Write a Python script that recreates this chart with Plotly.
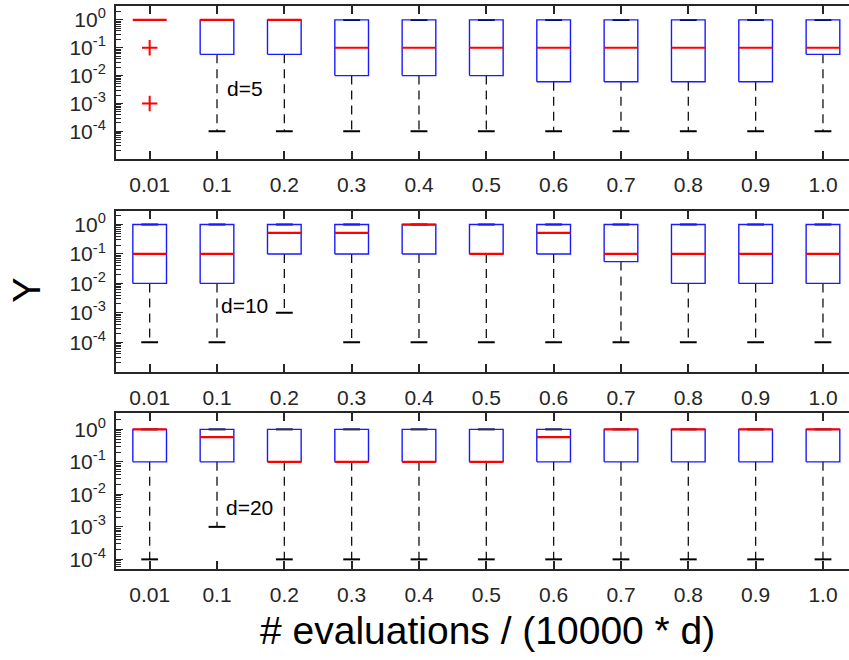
import plotly.graph_objects as go
import numpy as np

# ---------------- data ----------------
categories = ["0.01", "0.1", "0.2", "0.3", "0.4", "0.5", "0.6", "0.7", "0.8", "0.9", "1.0"]
ytick_values = [1e-4, 1e-3, 1e-2, 1e-1, 1e0]
ytick_labels = ["10<sup>-4</sup>", "10<sup>-3</sup>", "10<sup>-2</sup>", "10<sup>-1</sup>", "10<sup>0</sup>"]

# d = 5
d5_q1 = [1.0, 0.058, 0.058, 0.01, 0.01, 0.01, 0.006, 0.006, 0.006, 0.006, 0.058]
d5_med = [1.0, 1.0, 1.0, 0.1, 0.1, 0.1, 0.1, 0.1, 0.1, 0.1, 0.1]
d5_q3 = [1.0] * 11
d5_lo = [1.0, 1e-4, 1e-4, 1e-4, 1e-4, 1e-4, 1e-4, 1e-4, 1e-4, 1e-4, 1e-4]
d5_hi = [1.0] * 11
d5_out_cat = ["0.01", "0.01"]
d5_out_val = [0.1, 0.001]

# d = 10
d10_q1 = [0.01, 0.01, 0.1, 0.1, 0.1, 0.1, 0.1, 0.055, 0.01, 0.01, 0.01]
d10_med = [0.1, 0.1, 0.52, 0.52, 1.0, 0.1, 0.52, 0.1, 0.1, 0.1, 0.1]
d10_q3 = [1.0] * 11
d10_lo = [1e-4, 1e-4, 1e-3, 1e-4, 1e-4, 1e-4, 1e-4, 1e-4, 1e-4, 1e-4, 1e-4]
d10_hi = [1.0] * 11
d10_out_cat = []
d10_out_val = []

# d = 20
d20_q1 = [0.1] * 11
d20_med = [1.0, 0.58, 0.1, 0.1, 0.1, 0.1, 0.58, 1.0, 1.0, 1.0, 1.0]
d20_q3 = [1.0] * 11
d20_lo = [1e-4, 1e-3, 1e-4, 1e-4, 1e-4, 1e-4, 1e-4, 1e-4, 1e-4, 1e-4, 1e-4]
d20_hi = [1.0] * 11
d20_out_cat = []
d20_out_val = []

panel_labels = ["d=5", "d=10", "d=20"]

panels = [
    (d5_q1, d5_med, d5_q3, d5_lo, d5_hi, d5_out_cat, d5_out_val),
    (d10_q1, d10_med, d10_q3, d10_lo, d10_hi, d10_out_cat, d10_out_val),
    (d20_q1, d20_med, d20_q3, d20_lo, d20_hi, d20_out_cat, d20_out_val),
]

# ---------------- style / layout ----------------
FONT = "Liberation Sans, Arial, sans-serif"
AXC = "#262626"
BOX_W = 0.25   # half box width (category units)
CAP_W = 0.125  # half cap width

W, H = 849, 660
ML = 116
plot_w = W - ML
cat_px = 67.33
x_range = [0.5, 0.5 + plot_w / cat_px]

y_domains = [
    [1 - 158.3 / H, 1 - 5 / H],
    [1 - 372.3 / H, 1 - 210.7 / H],
    [1 - 570.7 / H, 1 - 414 / H],
]
y_ranges = [[-4.98, 0.5], [-5.0, 0.47], [-4.3, 0.5]]
label_pos = [(2.12, -2.46), (2.03, -2.76), (2.10, -2.39)]

fig = go.Figure()
pos = {c: i + 1 for i, c in enumerate(categories)}

for r, (q1, med, q3, lo, hi, oc, ov) in enumerate(panels):
    xa = "x" if r == 0 else f"x{r+1}"
    ya = "y" if r == 0 else f"y{r+1}"
    xs = [pos[c] for c in categories]

    # whiskers (dashed)
    wx, wy = [], []
    for x, a, b, c, d in zip(xs, q1, lo, q3, hi):
        if b < a:
            wx += [x, x, None]; wy += [a, b, None]
        if d > c:
            wx += [x, x, None]; wy += [c, d, None]
    if wx:
        fig.add_trace(go.Scatter(x=wx, y=wy, mode="lines", xaxis=xa, yaxis=ya,
                                 line=dict(color="#111111", width=1.3, dash="9px,6px"),
                                 hoverinfo="skip", showlegend=False))
    # caps
    cx, cy = [], []
    for x, b, d in zip(xs, lo, hi):
        cx += [x - CAP_W, x + CAP_W, None, x - CAP_W, x + CAP_W, None]
        cy += [b, b, None, d, d, None]
    fig.add_trace(go.Scatter(x=cx, y=cy, mode="lines", xaxis=xa, yaxis=ya,
                             line=dict(color="#000000", width=2),
                             hoverinfo="skip", showlegend=False))
    # boxes
    bx, by = [], []
    for x, a, c in zip(xs, q1, q3):
        bx += [x - BOX_W, x + BOX_W, x + BOX_W, x - BOX_W, x - BOX_W, None]
        by += [a, a, c, c, a, None]
    fig.add_trace(go.Scatter(x=bx, y=by, mode="lines", xaxis=xa, yaxis=ya,
                             line=dict(color="#1a1aff", width=1.4),
                             hoverinfo="skip", showlegend=False))
    # medians
    mx, my = [], []
    for x, m in zip(xs, med):
        mx += [x - BOX_W, x + BOX_W, None]
        my += [m, m, None]
    fig.add_trace(go.Scatter(x=mx, y=my, mode="lines", xaxis=xa, yaxis=ya,
                             line=dict(color="#ff0000", width=2.2),
                             hoverinfo="skip", showlegend=False))
    # outliers
    if ov:
        fig.add_trace(go.Scatter(x=[pos[c] for c in oc], y=ov, mode="markers",
                                 xaxis=xa, yaxis=ya,
                                 marker=dict(symbol="cross-thin", size=11,
                                             line=dict(color="#ff0000", width=2)),
                                 hoverinfo="skip", showlegend=False))

minor_vals = [m * 10.0 ** k for k in range(-6, 1) for m in range(2, 10)]

layout = dict(
    width=W, height=H,
    margin=dict(l=ML, r=0, t=0, b=0),
    paper_bgcolor="white", plot_bgcolor="white",
    font=dict(family=FONT, color=AXC, size=21),
    showlegend=False,
    annotations=[],
)

for r in range(3):
    xk = "xaxis" if r == 0 else f"xaxis{r+1}"
    yk = "yaxis" if r == 0 else f"yaxis{r+1}"
    ya = "y" if r == 0 else f"y{r+1}"
    xa = "x" if r == 0 else f"x{r+1}"
    layout[xk] = dict(
        domain=[0, 1], anchor=ya, range=x_range,
        tickmode="array", tickvals=[pos[c] for c in categories], ticktext=categories,
        ticks="inside", ticklen=8, tickwidth=1.6, tickcolor=AXC,
        showline=True, linecolor=AXC, linewidth=2, mirror="ticks",
        showgrid=False, zeroline=False, ticklabelstandoff=6,
        tickfont=dict(family=FONT, size=21, color=AXC),
    )
    layout[yk] = dict(
        domain=y_domains[r], anchor=xa, type="log", range=y_ranges[r],
        tickmode="array", tickvals=ytick_values, ticktext=ytick_labels,
        ticks="inside", ticklen=7, tickwidth=1.4, tickcolor=AXC,
        minor=dict(ticks="inside", ticklen=5, tickwidth=1, tickcolor=AXC,
                   tickmode="array", tickvals=minor_vals, showgrid=False),
        showline=True, linecolor=AXC, linewidth=2, mirror=False,
        showgrid=False, zeroline=False, ticklabelstandoff=4,
        tickfont=dict(family=FONT, size=21, color=AXC),
    )
    lx, ly = label_pos[r]
    layout["annotations"].append(dict(
        text=panel_labels[r], x=lx, y=ly, xref=xa, yref=ya,
        xanchor="left", yanchor="middle", showarrow=False,
        font=dict(family=FONT, size=21, color="#000000"),
    ))

layout["annotations"].append(dict(
    text="# evaluations / (10000 * d)", x=(487 - ML) / plot_w, y=1 - 632 / H,
    xref="paper", yref="paper", xanchor="center", yanchor="middle",
    showarrow=False, font=dict(family=FONT, size=39, color="#000000"),
))
layout["annotations"].append(dict(
    text="Y", x=(27 - ML) / plot_w, y=1 - 291 / H, textangle=-90,
    xref="paper", yref="paper", xanchor="center", yanchor="middle",
    showarrow=False, font=dict(family=FONT, size=38, color="#000000"),
))

fig.update_layout(**layout)
fig.write_html("out.html",
               config={"displayModeBar": False},
               post_script="document.body.style.margin='0';document.body.style.overflow='hidden';")
